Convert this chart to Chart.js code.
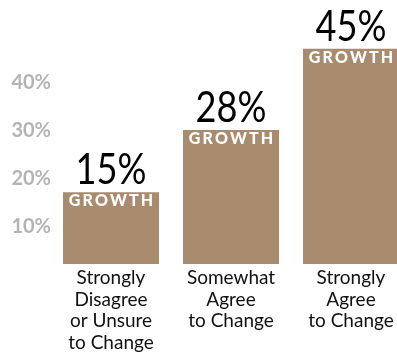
<!DOCTYPE html>
<html>
<head>
<meta charset="utf-8">
<script src="https://cdn.jsdelivr.net/npm/chart.js@4/dist/chart.umd.min.js"></script>
<style>
  html, body { margin: 0; padding: 0; background: #fff; overflow: hidden; }
  #wrap { width: 420px; height: 355px; }
</style>
</head>
<body>
<div id="wrap"><canvas id="c" width="420" height="355"></canvas></div>
<script>
// Survey answer groups (x-axis categories, one line per array entry)
const categories = [
  ['Strongly', 'Disagree', 'or Unsure', 'to Change'],
  ['Somewhat', 'Agree', 'to Change'],
  ['Strongly', 'Agree', 'to Change']
];
// Growth per group, in percent
const growth = [15, 28, 45];
// Gridline values shown on the left axis
const yTicks = [10, 20, 30, 40];

const BAR = '#a98b6e';
const FONT = 'Lato, "Open Sans", sans-serif';

// Writes the percentage above each bar and "GROWTH" just inside its top
const barLabels = {
  id: 'barLabels',
  afterDatasetsDraw(chart) {
    const ctx = chart.ctx;
    const meta = chart.getDatasetMeta(0);
    meta.data.forEach((bar, i) => {
      const { x, y } = bar.getProps(['x', 'y'], true);
      ctx.save();
      ctx.textAlign = 'center';
      ctx.fillStyle = '#000';
      ctx.textBaseline = 'alphabetic';
      ctx.font = '400 42px ' + FONT;
      ctx.translate(x, y - 8);
      ctx.scale(0.86, 1);
      ctx.fillText(growth[i] + '%', 0, 0);
      ctx.restore();

      ctx.save();
      ctx.textAlign = 'center';
      ctx.fillStyle = '#fff';
      ctx.textBaseline = 'top';
      ctx.font = '900 16px ' + FONT;
      ctx.letterSpacing = '2.2px';
      ctx.fillText('GROWTH', x + 1.1, y + 1);
      ctx.restore();
    });
  }
};

new Chart(document.getElementById('c'), {
  type: 'bar',
  data: {
    labels: categories,
    datasets: [{
      data: growth,
      backgroundColor: BAR,
      borderWidth: 0,
      barPercentage: 0.8,
      categoryPercentage: 1.0
    }]
  },
  options: {
    responsive: false,
    devicePixelRatio: 1,
    animation: false,
    layout: { padding: { left: 0, right: 9, top: 0, bottom: 0 } },
    plugins: { legend: { display: false }, tooltip: { enabled: false } },
    scales: {
      x: {
        grid: { display: false, drawTicks: false },
        border: { display: false },
        ticks: {
          color: '#111',
          padding: 3,
          maxRotation: 0,
          autoSkip: false,
          font: { family: FONT, size: 19, lineHeight: 1.14 }
        },
        afterFit(scale) {
          scale.height = 91;
          scale.paddingLeft = 0;
          scale.paddingRight = 0;
        }
      },
      y: {
        min: 0,
        max: 55.2,
        grid: { display: false, drawTicks: false },
        border: { display: false },
        afterBuildTicks(scale) { scale.ticks = yTicks.map(v => ({ value: v })); },
        afterFit(scale) {
          scale.width = 51;
          scale.paddingTop = 0;
          scale.paddingBottom = 0;
        },
        ticks: {
          color: '#b4b4b4',
          padding: 0,
          labelOffset: 10,
          font: { family: FONT, size: 20, weight: 'bold' },
          callback: v => v + '%'
        }
      }
    }
  },
  plugins: [barLabels]
});
</script>
</body>
</html>
